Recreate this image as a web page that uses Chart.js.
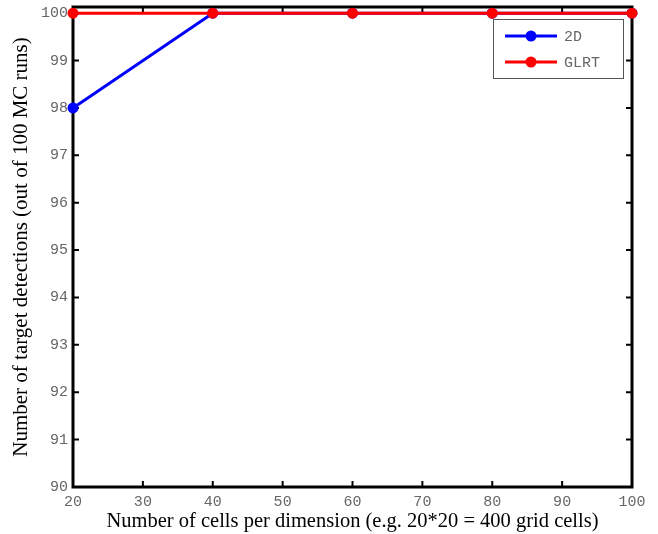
<!DOCTYPE html>
<html>
<head>
<meta charset="utf-8">
<script src="https://cdn.jsdelivr.net/npm/chart.js@4.4.0/dist/chart.umd.min.js"></script>
<style>
  html, body { margin: 0; padding: 0; background: #fff; }
  #wrap { width: 658px; height: 534px; }
</style>
</head>
<body>
<div id="wrap"><canvas id="chart" width="658" height="534"></canvas></div>
<script>
const cells = [20, 40, 60, 80, 100];
const detections2D = [98, 100, 100, 100, 100];
const detectionsGLRT = [100, 100, 100, 100, 100];
const xTicks = [20, 30, 40, 50, 60, 70, 80, 90, 100];
const yTicks = [90, 91, 92, 93, 94, 95, 96, 97, 98, 99, 100];
const seriesNames = ['2D', 'GLRT'];
const seriesColors = ['#0000ff', '#ff0000'];

const tickFont = { family: 'Liberation Mono', size: 15 };
const tickColor = '#666';

// frame with inward ticks on all four sides, MATLAB style
const framePlugin = {
  id: 'frame',
  beforeDatasetsDraw(chart) {
    const { ctx, chartArea: a, scales } = chart;
    ctx.save();
    ctx.strokeStyle = '#000';
    ctx.lineWidth = 3;
    ctx.strokeRect(a.left, a.top, a.right - a.left, a.bottom - a.top);
    ctx.lineWidth = 2;
    ctx.beginPath();
    xTicks.forEach(v => {
      const x = scales.x.getPixelForValue(v);
      ctx.moveTo(x, a.bottom); ctx.lineTo(x, a.bottom - 6);
      ctx.moveTo(x, a.top); ctx.lineTo(x, a.top + 6);
    });
    yTicks.forEach(v => {
      const y = scales.y.getPixelForValue(v);
      ctx.moveTo(a.left, y); ctx.lineTo(a.left + 6, y);
      ctx.moveTo(a.right, y); ctx.lineTo(a.right - 6, y);
    });
    ctx.stroke();
    ctx.restore();
  },
  afterDraw(chart) {
    // legend box
    const { ctx } = chart;
    const bx = 493, by = 19, bw = 130, bh = 59;
    ctx.save();
    ctx.fillStyle = '#fff';
    ctx.fillRect(bx, by, bw, bh);
    ctx.strokeStyle = '#555';
    ctx.lineWidth = 1;
    ctx.strokeRect(bx + 0.5, by + 0.5, bw, bh);
    seriesNames.forEach((name, i) => {
      const y = 36 + i * 26;
      ctx.strokeStyle = seriesColors[i];
      ctx.lineWidth = 3;
      ctx.beginPath();
      ctx.moveTo(505, y); ctx.lineTo(557, y);
      ctx.stroke();
      ctx.fillStyle = seriesColors[i];
      ctx.beginPath();
      ctx.arc(531, y, 5.5, 0, Math.PI * 2);
      ctx.fill();
      ctx.fillStyle = tickColor;
      ctx.font = '15px "Liberation Mono"';
      ctx.textBaseline = 'middle';
      ctx.fillText(name, 564, y + 1);
    });
    ctx.restore();
  }
};

function lineSet(i, values, order) {
  return {
    label: seriesNames[i],
    data: cells.map((c, k) => ({ x: c, y: values[k] })),
    borderColor: seriesColors[i],
    backgroundColor: seriesColors[i],
    pointBorderColor: seriesColors[i],
    borderWidth: 3,
    pointRadius: 5.5,
    pointBorderWidth: 0,
    order: order,
    clip: false
  };
}

new Chart(document.getElementById('chart').getContext('2d'), {
  type: 'line',
  data: {
    datasets: [lineSet(0, detections2D, 1), lineSet(1, detectionsGLRT, 0)]
  },
  options: {
    responsive: false,
    animation: false,
    layout: { padding: { top: 7, right: 26, left: 0, bottom: 0 } },
    plugins: { legend: { display: false }, tooltip: { enabled: false } },
    scales: {
      x: {
        type: 'linear',
        min: 20,
        max: 100,
        afterBuildTicks: s => { s.ticks = xTicks.map(v => ({ value: v })); },
        afterFit: s => { s.height = 47; s.paddingLeft = 0; s.paddingRight = 0; },
        grid: { display: false, drawTicks: false },
        border: { display: false },
        ticks: { font: tickFont, color: tickColor, padding: 6, maxRotation: 0 },
        title: {
          display: true,
          text: 'Number of cells per dimension (e.g. 20*20 = 400 grid cells)',
          font: { family: 'Liberation Serif', size: 20.5 },
          color: '#000',
          padding: { top: 0, bottom: 0 }
        }
      },
      y: {
        type: 'linear',
        min: 90,
        max: 100.13,
        afterBuildTicks: s => { s.ticks = yTicks.map(v => ({ value: v })); },
        afterFit: s => { s.width = 73; s.paddingTop = 0; s.paddingBottom = 0; },
        grid: { display: false, drawTicks: false },
        border: { display: false },
        ticks: { font: tickFont, color: tickColor, padding: 5 },
        title: {
          display: true,
          text: 'Number of target detections (out of 100 MC runs)',
          font: { family: 'Liberation Serif', size: 21 },
          color: '#000',
          padding: { top: 9, bottom: 0 }
        }
      }
    }
  },
  plugins: [framePlugin]
});
</script>
</body>
</html>
